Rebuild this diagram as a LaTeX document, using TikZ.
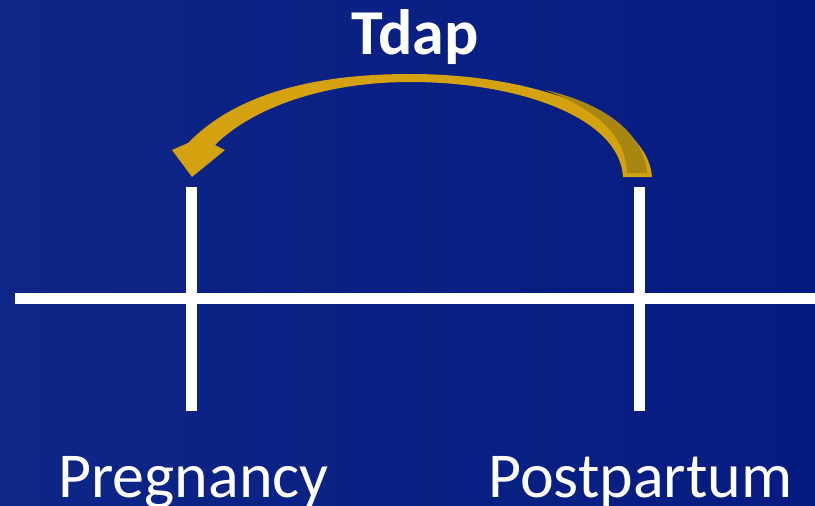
\documentclass[tikz,border=0pt]{standalone}
\usepackage{fontspec}
\setmainfont{Carlito}
\definecolor{bgA}{HTML}{0D2687}
\definecolor{bgB}{HTML}{051B80}
\definecolor{gold}{HTML}{D4A20E}
\definecolor{golddark}{HTML}{A8860F}
\begin{document}
\begin{tikzpicture}[x=1pt,y=-1pt,
  axis/.style={draw=white,line width=11pt},
  lbl/.style={text=white,font=\fontsize{64}{64}\selectfont,inner sep=0pt,anchor=base west},
  ttl/.style={text=white,font=\bfseries\fontsize{64}{64}\selectfont,inner sep=0pt,anchor=base west}]
\useasboundingbox (0,0) rectangle (815,506);
\shade[left color=bgA,right color=bgB] (0,0) rectangle (815,506);
% axis
\coordinate (axL) at (15,298);
\coordinate (axR) at (815,298);
\coordinate (p1t) at (191,187);
\coordinate (p1b) at (191,411);
\coordinate (p2t) at (639,187);
\coordinate (p2b) at (639,411);
\draw[axis] (axL) -- (axR);
\draw[axis] (p1t) -- (p1b);
\draw[axis] (p2t) -- (p2b);
% labels
\node[lbl] (preg) at (58,497) {Pregnancy};
\node[lbl] (post) at (488,497) {Postpartum};
\node[ttl] (tdap) at (351,54) {Tdap};
% curved arrow
\fill[gold] (652,177) .. controls (648,118) and (540,74) .. (410,74)
  .. controls (300,74) and (230,100) .. (188,143) -- (172,150) -- (192,177)
  -- (225,150) -- (215,145)
  .. controls (250,110) and (320,82) .. (410,82)
  .. controls (520,82) and (620,118) .. (623,177) -- cycle;
\fill[golddark] (647,173) .. controls (643,125) and (590,100) .. (545,90)
  .. controls (590,107) and (626,132) .. (627,173) -- cycle;
\end{tikzpicture}
\end{document}
